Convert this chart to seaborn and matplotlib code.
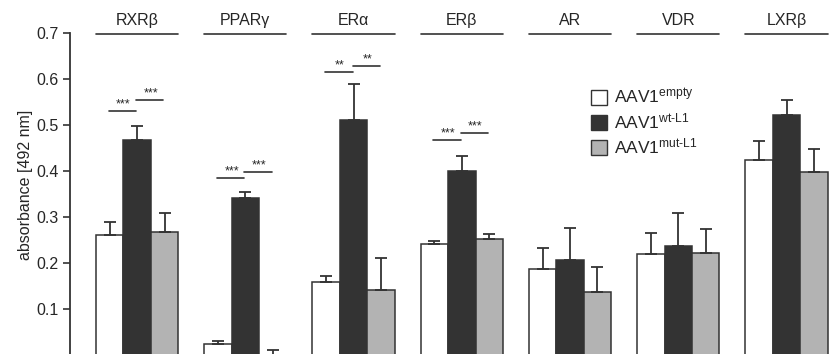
import numpy as np
import pandas as pd
import matplotlib
matplotlib.use('Agg')
import matplotlib.pyplot as plt
import seaborn as sns

receptors = ['RXRβ', 'PPARγ', 'ERα', 'ERβ', 'AR', 'VDR', 'LXRβ']
vectors = ['empty', 'wt-L1', 'mut-L1']
empty_vals = [0.261, 0.023, 0.158, 0.242, 0.188, 0.220, 0.425]
empty_top = [0.290, 0.031, 0.172, 0.248, 0.233, 0.266, 0.465]
wt_vals = [0.467, 0.342, 0.511, 0.400, 0.207, 0.238, 0.523]
wt_top = [0.497, 0.355, 0.590, 0.433, 0.277, 0.309, 0.554]
mut_vals = [0.267, 0.001, 0.142, 0.253, 0.138, 0.222, 0.398]
mut_top = [0.309, 0.011, 0.210, 0.263, 0.191, 0.275, 0.447]

# significance brackets: (receptor index, first bar, second bar, height, label)
sig_marks = [
    (0, 0, 1, 0.530, '***'), (0, 1, 2, 0.554, '***'),
    (1, 0, 1, 0.385, '***'), (1, 1, 2, 0.398, '***'),
    (2, 0, 1, 0.615, '**'), (2, 1, 2, 0.628, '**'),
    (3, 0, 1, 0.468, '***'), (3, 1, 2, 0.482, '***'),
]

sns.set_style('ticks')
plt.rcParams['font.family'] = ['Liberation Sans', 'DejaVu Sans']
plt.rcParams['mathtext.fontset'] = 'custom'
plt.rcParams['mathtext.rm'] = 'Liberation Sans'

df = pd.DataFrame({
    'receptor': receptors * 3,
    'vector': np.repeat(vectors, len(receptors)),
    'value': empty_vals + wt_vals + mut_vals,
})
tops = np.array(empty_top + wt_top + mut_top)

fig = plt.figure(figsize=(8.32, 3.54), dpi=100)
ax = fig.add_axes([70 / 832, -1 / 354, 1 - 70 / 832, 1 + 1 / 354])

colors = ['#ffffff', '#333333', '#b3b3b3']
sns.barplot(data=df, x='receptor', y='value', hue='vector', palette=colors,
            width=0.76, edgecolor='#333333', linewidth=1.1, ax=ax,
            legend=False, errorbar=None)

bars = ax.patches[:len(df)]
xs = np.array([b.get_x() + b.get_width() / 2 for b in bars])
vals = df['value'].to_numpy()
ax.errorbar(xs, vals, yerr=[np.zeros_like(vals), tops - vals], fmt='none',
            ecolor='#333333', elinewidth=1.3, capsize=4, capthick=1.3, zorder=1)

n = len(receptors)
for i, a, b, h, lab in sig_marks:
    x0 = xs[a * n + i]
    x1 = xs[b * n + i]
    ax.plot([x0 - 0.01, x1 - 0.01], [h, h], color='#333333', lw=1.2)
    ax.text((x0 + x1) / 2, h + 0.001, lab, ha='center', va='bottom', fontsize=9)

for i, r in enumerate(receptors):
    left = bars[i].get_x()
    right = bars[2 * n + i].get_x() + bars[2 * n + i].get_width()
    ax.plot([left, right], [0.698, 0.698], color='#333333', lw=1.2, clip_on=False)
    ax.text((left + right) / 2, 0.711, r, ha='center', va='bottom', fontsize=11.5)

ax.set_ylim(0, 0.772)
ax.set_xlim(-0.62, 6.42)
ax.set_yticks([0.1, 0.2, 0.3, 0.4, 0.5, 0.6, 0.7])
ax.set_yticklabels(['0.1', '0.2', '0.3', '0.4', '0.5', '0.6', '0.7'])
ax.tick_params(axis='y', labelsize=11.5, length=5, width=1.2, color='#333333', pad=3)
ax.tick_params(axis='x', bottom=False, labelbottom=False)
ax.set_xlabel('')
ax.set_ylabel('absorbance [492 nm]', fontsize=11.5)
ax.yaxis.set_label_coords(-0.048, 0.48)
sns.despine(ax=ax, top=True, right=True, bottom=True)
ax.spines['left'].set_bounds(0, 0.7)
ax.spines['left'].set_linewidth(1.3)
ax.spines['left'].set_color('#333333')

handles = [plt.Rectangle((0, 0), 1, 1, facecolor=c, edgecolor='#333333', lw=1) for c in colors]
labels = [r'$\mathregular{AAV1^{empty}}$', r'$\mathregular{AAV1^{wt\text{-}L1}}$',
          r'$\mathregular{AAV1^{mut\text{-}L1}}$']
fig.legend(handles, labels, loc='upper left', bbox_to_anchor=(584 / 832, 1 - 80 / 354),
           frameon=False, fontsize=12.5, handlelength=0.95, handleheight=0.95,
           handletextpad=0.35, labelspacing=0.3, borderaxespad=0)

fig.savefig('out.png', dpi=100)
